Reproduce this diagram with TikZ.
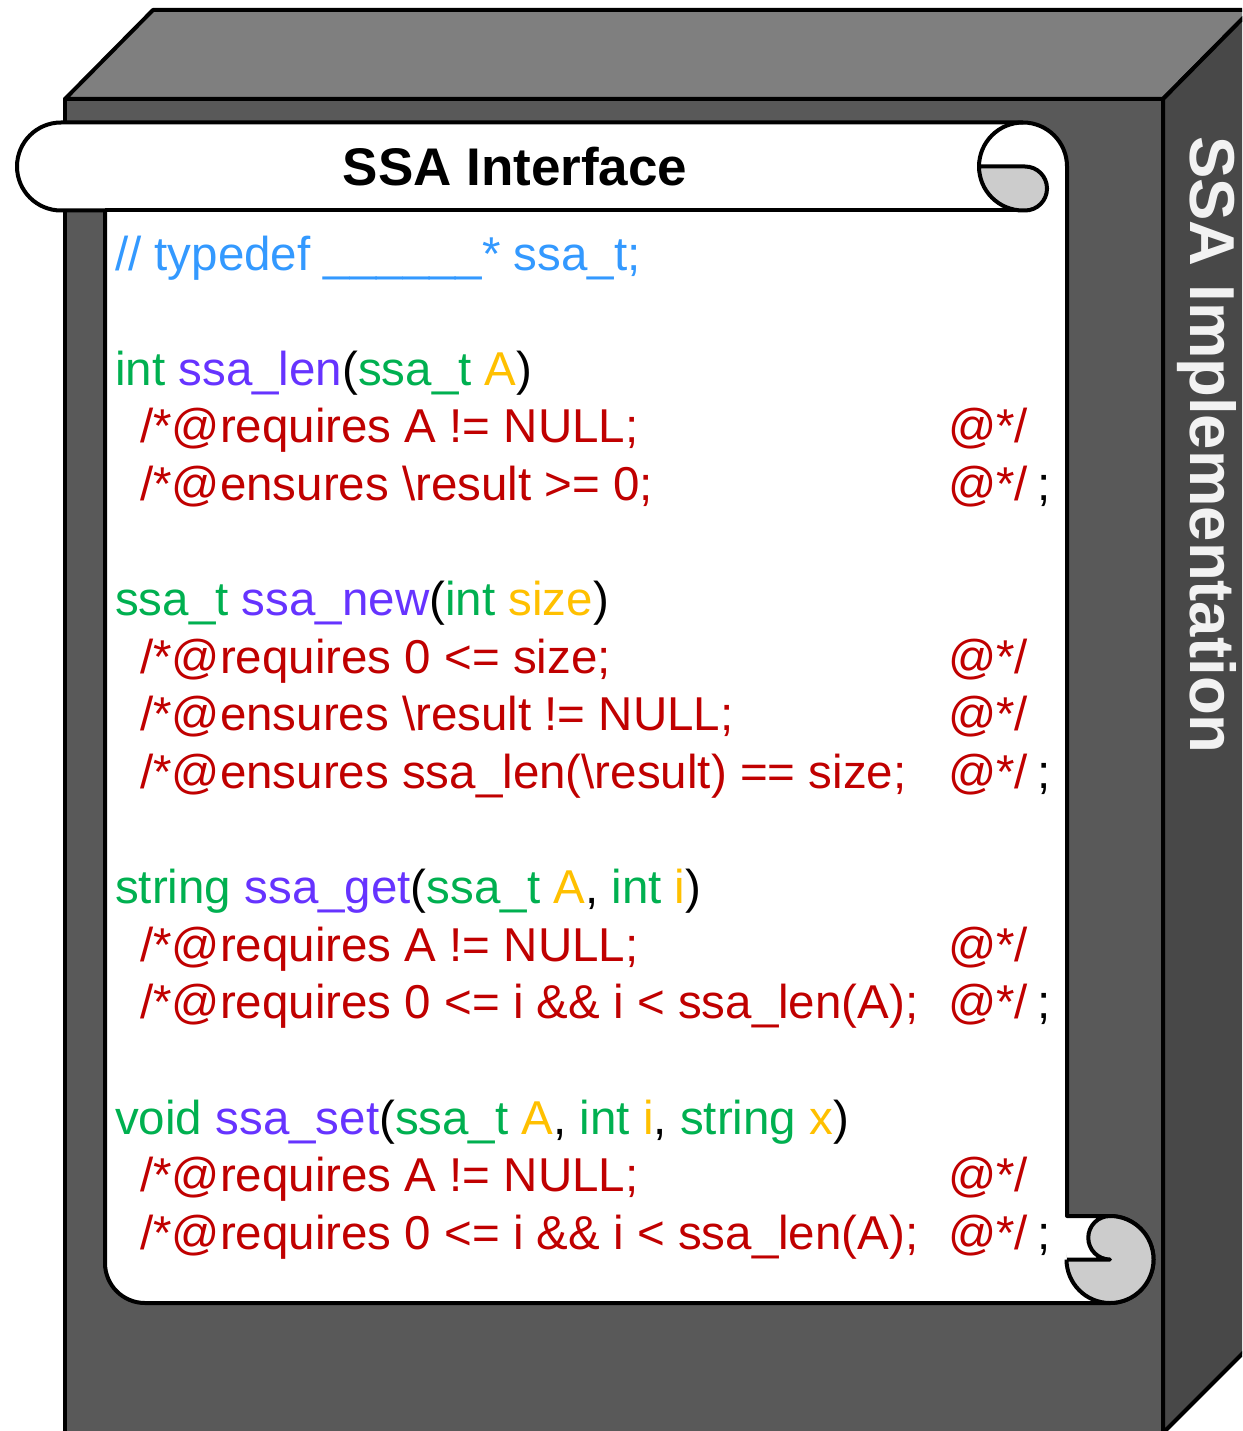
\documentclass[tikz,border=0pt]{standalone}
\usepackage{fontspec}
\setmainfont{Liberation Sans}
\definecolor{cblue}{HTML}{3399FF}
\definecolor{cgreen}{HTML}{00B050}
\definecolor{cpurple}{HTML}{6633FF}
\definecolor{cgold}{HTML}{FFC000}
\definecolor{cred}{HTML}{C00000}
\definecolor{frontgray}{HTML}{595959}
\definecolor{topgray}{HTML}{7F7F7F}
\definecolor{sidegray}{HTML}{484848}
\definecolor{curlgray}{HTML}{CCCCCC}
\definecolor{labelgray}{HTML}{F2F2F2}
\newcommand\codefont{\fontsize{47.5}{57}\selectfont}
\newcommand\gr[1]{\textcolor{cgreen}{#1}}
\newcommand\pu[1]{\textcolor{cpurple}{#1}}
\newcommand\go[1]{\textcolor{cgold}{#1}}
\begin{document}
\begin{tikzpicture}[x=1pt,y=1pt,
  edge/.style={draw=black,line width=4pt,line join=round},
  code/.style={anchor=base west,inner sep=0pt,font=\codefont},
  cond/.style={code,text=cred},
  closer/.style={code,text=cred},
  semi/.style={code,text=black}]
\useasboundingbox (0,0) rectangle (1242,-1431);
\clip (0,0) rectangle (1242,-1431);
% box
\path[edge,fill=frontgray] (65,-99) rectangle (1163,-1433);
\path[edge,fill=topgray] (65,-99) -- (153,-10) -- (1251,-10) -- (1163,-99) -- cycle;
\path[edge,fill=sidegray] (1163,-99) -- (1251,-10) -- (1251,-1345) -- (1163,-1433) -- cycle;
\node[rotate=-90,text=labelgray,font=\fontsize{63.5}{63.5}\selectfont\bfseries,inner sep=0pt] (impl) at (1207,-445) {SSA Implementation};
% scroll body
\path[edge,fill=white] (61,-122.5) -- (1023,-122.5)
  arc[start angle=90,end angle=0,radius=44] -- (1067,-1216) -- (1110,-1216)
  arc[start angle=90,end angle=-90,radius=43.5] -- (145,-1303)
  arc[start angle=270,end angle=180,radius=40] -- (105,-210.5) -- (61,-210.5)
  arc[start angle=270,end angle=90,radius=44] -- cycle;
\draw[edge] (105,-210.5) -- (1023,-210.5);
% top curl
\path[edge,fill=curlgray] (979,-166.5) -- (1025,-166.5)
  arc[start angle=90,end angle=-90,radius=22] -- (1023,-210.5)
  arc[start angle=270,end angle=180,radius=44] -- cycle;
\draw[edge] (979,-166.5) arc[start angle=180,end angle=90,radius=44];
% bottom curl
\fill[curlgray] (1110,-1259.5) circle[radius=43.5];
\fill[white] (1067,-1216) -- (1110,-1216) arc[start angle=90,end angle=270,radius=21.75] -- (1067,-1259.5) -- cycle;
\draw[edge] (1110,-1216) arc[start angle=90,end angle=-180,radius=43.5];
\draw[edge] (1067,-1216) -- (1110,-1216) arc[start angle=90,end angle=270,radius=21.75] -- (1067,-1259.5);
% title
\node[font=\fontsize{53}{53}\selectfont\bfseries,inner sep=0pt] (title) at (515,-166.5) {SSA Interface};
% code
\node[code,text=cblue] (l0) at (115,-270) {// typedef \_\_\_\_\_\_* ssa\_t;};
\node[code] (l2) at (115,-385.2) {\gr{int} \pu{ssa\_len}(\gr{ssa\_t} \go{A})};
\node[cond] (l3) at (140,-442.8) {/*@requires A != NULL;};
\node[closer] (c3) at (948,-442.8) {@*/};
\node[cond] (l4) at (140,-500.4) {/*@ensures \textbackslash result >= 0;};
\node[closer] (c4) at (948,-500.4) {@*/};
\node[semi] (s4) at (1037,-500.4) {;};
\node[code] (l6) at (115,-615.6) {\gr{ssa\_t} \pu{ssa\_new}(\gr{int} \go{size})};
\node[cond] (l7) at (140,-673.2) {/*@requires 0 <= size;};
\node[closer] (c7) at (948,-673.2) {@*/};
\node[cond] (l8) at (140,-730.8) {/*@ensures \textbackslash result != NULL;};
\node[closer] (c8) at (948,-730.8) {@*/};
\node[cond] (l9) at (140,-788.4) {/*@ensures ssa\_len(\textbackslash result) == size;};
\node[closer] (c9) at (948,-788.4) {@*/};
\node[semi] (s9) at (1037,-788.4) {;};
\node[code] (l11) at (115,-903.6) {\gr{string} \pu{ssa\_get}(\gr{ssa\_t} \go{A}, \gr{int} \go{i})};
\node[cond] (l12) at (140,-961.2) {/*@requires A != NULL;};
\node[closer] (c12) at (948,-961.2) {@*/};
\node[cond] (l13) at (140,-1018.8) {/*@requires 0 <= i \&\& i < ssa\_len(A);};
\node[closer] (c13) at (948,-1018.8) {@*/};
\node[semi] (s13) at (1037,-1018.8) {;};
\node[code] (l15) at (115,-1134) {\gr{void} \pu{ssa\_set}(\gr{ssa\_t} \go{A}, \gr{int} \go{i}, \gr{string} \go{x})};
\node[cond] (l16) at (140,-1191.6) {/*@requires A != NULL;};
\node[closer] (c16) at (948,-1191.6) {@*/};
\node[cond] (l17) at (140,-1249.2) {/*@requires 0 <= i \&\& i < ssa\_len(A);};
\node[closer] (c17) at (948,-1249.2) {@*/};
\node[semi] (s17) at (1037,-1249.2) {;};
\end{tikzpicture}
\end{document}
